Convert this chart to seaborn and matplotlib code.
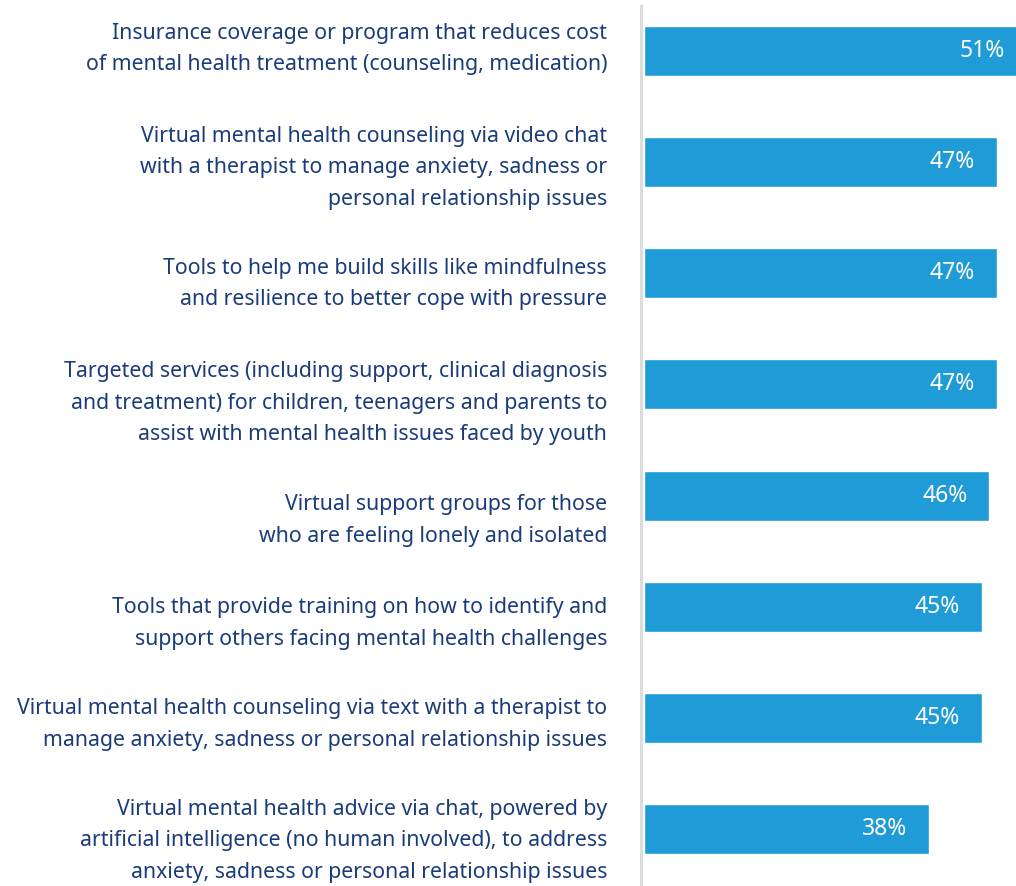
import matplotlib
matplotlib.use("Agg")
import matplotlib.pyplot as plt
import matplotlib.transforms as mtransforms
import seaborn as sns
import pandas as pd

categories = [
    "Insurance coverage or program that reduces cost\nof mental health treatment (counseling, medication)",
    "Virtual mental health counseling via video chat\nwith a therapist to manage anxiety, sadness or\npersonal relationship issues",
    "Tools to help me build skills like mindfulness\nand resilience to better cope with pressure",
    "Targeted services (including support, clinical diagnosis\nand treatment) for children, teenagers and parents to\nassist with mental health issues faced by youth",
    "Virtual support groups for those\nwho are feeling lonely and isolated",
    "Tools that provide training on how to identify and\nsupport others facing mental health challenges",
    "Virtual mental health counseling via text with a therapist to\nmanage anxiety, sadness or personal relationship issues",
    "Virtual mental health advice via chat, powered by\nartificial intelligence (no human involved), to address\nanxiety, sadness or personal relationship issues",
]
values = [51, 47, 47, 47, 46, 45, 45, 38]
value_labels = ["51%", "47%", "47%", "47%", "46%", "45%", "45%", "38%"]

# layout nudges (pixels, positive = down) for the category labels
label_nudge_px = [-10, -2, 3, 11, 17, 9, -1, 4]

BAR = "#1f9bd7"
NAVY = "#1a3c7a"

sns.set_theme(style="white")
plt.rcParams["font.family"] = ["Noto Sans", "DejaVu Sans"]

df = pd.DataFrame({"cat": categories, "val": values})

fig = plt.figure(figsize=(10.16, 8.86), dpi=100)
ax = fig.add_axes([644 / 1016, 0.0, 1 - 644 / 1016, 1 - 6 / 886])

sns.barplot(data=df, x="val", y="cat", orient="h", color=BAR, width=0.45,
            saturation=1, ax=ax)

ax.set_xlim(0, 49.53)
ax.set_ylim(7.513, -0.405)
ax.set_xlabel("")
ax.set_ylabel("")
ax.set_xticks([])

for s in ["top", "right", "bottom"]:
    ax.spines[s].set_visible(False)
ax.spines["left"].set_color("#dcdcdc")
ax.spines["left"].set_linewidth(2.2)
ax.spines["left"].set_position(("outward", 2))

ax.tick_params(axis="y", length=0, pad=24.5, labelsize=15.3, labelcolor=NAVY)
for t, dy in zip(ax.get_yticklabels(), label_nudge_px):
    t.set_linespacing(1.66)
    t.set_horizontalalignment("right")
    t.set_multialignment("right")
    t.set_transform(t.get_transform() + mtransforms.ScaledTranslation(0, -dy / 100, fig.dpi_scale_trans))

for patch, lab in zip(ax.patches, value_labels):
    ax.annotate(lab, xy=(patch.get_x() + patch.get_width(), patch.get_y() + patch.get_height() / 2),
                xytext=(-22, 0), textcoords="offset pixels", ha="right", va="center",
                color="white", fontsize=16.5, annotation_clip=False)

fig.savefig("out.png", dpi=100)
